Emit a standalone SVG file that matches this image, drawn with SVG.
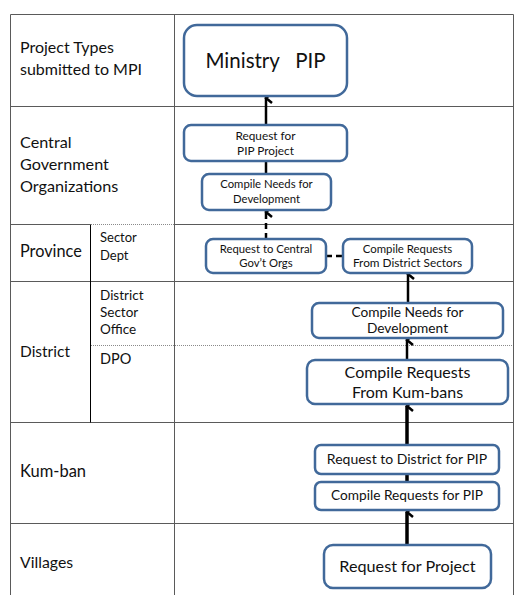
<svg xmlns="http://www.w3.org/2000/svg" width="516" height="595" viewBox="0 0 516 595">
  <style>
    .grid { stroke: #5a5a5a; stroke-width: 1; fill: none; }
    .dot { stroke: #8a8a8a; stroke-width: 1; stroke-dasharray: 1 1; fill: none; }
    .sub { stroke: #000; stroke-width: 1; fill: none; }
    .box { fill: #fff; stroke: #41699a; stroke-width: 2.5; }
    .lbl { font-family: Lato, "Liberation Sans", sans-serif; fill: #111; }
    .t { font-family: Lato, "Liberation Sans", sans-serif; fill: #111; text-anchor: middle; }
    .con { stroke: #000; stroke-width: 2.5; fill: none; }
    .thick { stroke-width: 3.5; }
    .dash { stroke-dasharray: 6 4; }
  </style>
  <defs>
    <marker id="head" markerUnits="userSpaceOnUse" viewBox="-7 -1 14 10" refX="0" refY="0" markerWidth="14" markerHeight="10" orient="auto-start-reverse" overflow="visible">
      <path d="M-5,6 L0,0 L5,6" fill="none" stroke="#000" stroke-width="2.5"/>
    </marker>
  </defs>
  <rect width="516" height="595" fill="#fff"/>

  <!-- table grid -->
  <g id="table">
    <path class="grid" d="M10.5,14.5 H513.5 M10.5,14.5 V595 M513.5,14.5 V595 M174.5,14.5 V595"/>
    <path class="grid" d="M10.5,106.5 H513.5"/>
    <path class="grid" d="M10.5,224.5 H90.5 M174.5,224.5 H513.5"/>
    <path class="dot" d="M91,224.5 H174"/>
    <path class="grid" d="M10.5,281.5 H513.5"/>
    <path class="dot" d="M91,345.5 H513"/>
    <path class="grid" d="M10.5,422.5 H513.5"/>
    <path class="grid" d="M10.5,523.5 H513.5"/>
    <path class="sub" d="M90.5,224.5 V422.5"/>
  </g>

  <!-- row labels -->
  <g id="labels">
    <text class="lbl" font-size="16" x="20" y="53">Project Types</text>
    <text class="lbl" font-size="16" x="20" y="75">submitted to MPI</text>
    <text class="lbl" font-size="16.2" x="20" y="148">Central</text>
    <text class="lbl" font-size="16.2" x="20" y="170">Government</text>
    <text class="lbl" font-size="16.2" x="20" y="192">Organizations</text>
    <text class="lbl" font-size="16.3" x="20" y="257">Province</text>
    <text class="lbl" font-size="13" x="100" y="242">Sector</text>
    <text class="lbl" font-size="13" x="100" y="260">Dept</text>
    <text class="lbl" font-size="13.5" x="100" y="300">District</text>
    <text class="lbl" font-size="13.5" x="100" y="317">Sector</text>
    <text class="lbl" font-size="13.5" x="100" y="334">Office</text>
    <text class="lbl" font-size="15.5" x="20" y="357">District</text>
    <text class="lbl" font-size="14.5" x="100" y="364">DPO</text>
    <text class="lbl" font-size="16.5" x="20" y="477">Kum-ban</text>
    <text class="lbl" font-size="15.8" x="20" y="568">Villages</text>
  </g>

  <!-- flow connectors -->
  <g id="connectors">
    <path class="con" d="M266,125 V98" marker-end="url(#head)"/>
    <path class="con" d="M266,174 V161"/>
    <path class="con dash" d="M266,239 V212" marker-end="url(#head)"/>
    <path class="con dash" d="M326,256 H343"/>
    <path class="con" d="M408,303 V274" marker-end="url(#head)"/>
    <path class="con" d="M407,360 V340" marker-end="url(#head)"/>
    <path class="con thick" d="M407,445 V406" marker-end="url(#head)"/>
    <path class="con thick" d="M407,482 V474"/>
    <path class="con thick" d="M407,545 V512" marker-end="url(#head)"/>
  </g>

  <!-- nodes -->
  <g id="ministry-pip">
    <rect class="box" x="184" y="25" width="163" height="71" rx="13"/>
    <text class="t" font-size="20.5" x="265.5" y="68" xml:space="preserve">Ministry   PIP</text>
  </g>
  <g id="request-pip-project">
    <rect class="box" x="184" y="125" width="163" height="36" rx="7"/>
    <text class="t" font-size="11.8" x="265.5" y="140">Request for</text>
    <text class="t" font-size="11.8" x="265.5" y="155">PIP Project</text>
  </g>
  <g id="central-compile-needs">
    <rect class="box" x="202" y="174" width="129" height="36" rx="7"/>
    <text class="t" font-size="11.3" x="266.5" y="188">Compile Needs for</text>
    <text class="t" font-size="11.3" x="266.5" y="203">Development</text>
  </g>
  <g id="request-central-orgs">
    <rect class="box" x="206" y="239" width="120" height="34" rx="7"/>
    <text class="t" font-size="11.3" x="266" y="253">Request to  Central</text>
    <text class="t" font-size="11.3" x="266" y="267">Gov’t Orgs</text>
  </g>
  <g id="compile-district-sectors">
    <rect class="box" x="343" y="239" width="129" height="34" rx="7"/>
    <text class="t" font-size="11.4" x="407.5" y="253">Compile Requests</text>
    <text class="t" font-size="11.8" x="407.5" y="267">From District Sectors</text>
  </g>
  <g id="district-compile-needs">
    <rect class="box" x="312" y="303" width="191" height="35" rx="7"/>
    <text class="t" font-size="13.7" x="407.5" y="317">Compile Needs for</text>
    <text class="t" font-size="13.7" x="407.5" y="333">Development</text>
  </g>
  <g id="compile-kum-bans">
    <rect class="box" x="307" y="360" width="201" height="44" rx="8"/>
    <text class="t" font-size="16" x="407.5" y="378">Compile Requests</text>
    <text class="t" font-size="16" x="407.5" y="398">From Kum-bans</text>
  </g>
  <g id="request-district-pip">
    <rect class="box" x="315" y="445" width="184" height="29" rx="6"/>
    <text class="t" font-size="14" x="407" y="464">Request to  District for PIP</text>
  </g>
  <g id="compile-requests-pip">
    <rect class="box" x="315" y="482" width="184" height="28" rx="6"/>
    <text class="t" font-size="13.7" x="407" y="500">Compile Requests for PIP</text>
  </g>
  <g id="request-project">
    <rect class="box" x="324" y="545" width="167" height="43" rx="9"/>
    <text class="t" font-size="16.2" x="407.5" y="572">Request for Project</text>
  </g>
</svg>
